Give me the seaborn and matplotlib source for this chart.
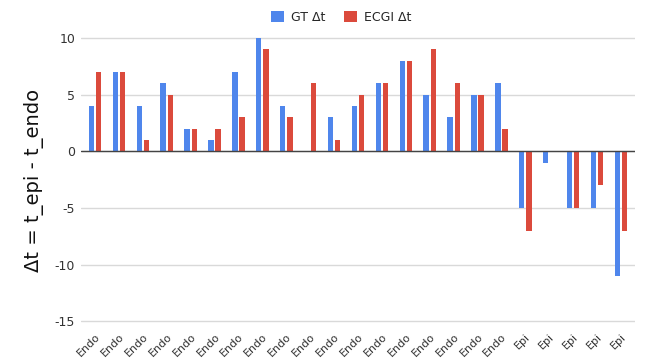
import numpy as np
import pandas as pd
import matplotlib
matplotlib.use('Agg')
import matplotlib.pyplot as plt
import seaborn as sns

labels = ['Endo'] * 18 + ['Epi'] * 5
gt = [4, 7, 4, 6, 2, 1, 7, 10, 4, 0, 3, 4, 6, 8, 5, 3, 5, 6, -5, -1, -5, -5, -11]
ecgi = [7, 7, 1, 5, 2, 2, 3, 9, 3, 6, 1, 5, 6, 8, 9, 6, 5, 2, -7, 0, -5, -3, -7]
series = ['GT Δt', 'ECGI Δt']
colors = ['#4f86ec', '#db4a3c']

idx = list(range(len(labels)))
df = pd.DataFrame({
    'idx': idx * 2,
    'value': gt + ecgi,
    'series': [series[0]] * len(gt) + [series[1]] * len(ecgi),
})

sns.set_style('white')
plt.rcParams['font.family'] = ['DejaVu Sans']

fig = plt.figure(figsize=(6.45, 3.62), dpi=100)
ax = fig.add_axes([0.125, 0.1, 0.86, 0.804])

sns.barplot(data=df, x='idx', y='value', hue='series', palette=colors,
            width=0.6, gap=0.25, ax=ax, saturation=1, linewidth=0)

ax.set_ylim(-15.4, 10.3)
ax.set_yticks([-15, -10, -5, 0, 5, 10])
ax.set_yticklabels(['-15', '-10', '-5', '0', '5', '10'], fontsize=9, color='#333333')
ax.yaxis.grid(True, color='#d9d9d9', lw=1)
ax.axhline(0, color='#444444', lw=1, zorder=3)
ax.set_axisbelow(True)
ax.set_xticks(idx)
ax.set_xticklabels(labels, rotation=45, ha='right', rotation_mode='anchor', fontsize=8, color='#333333')
ax.set_xlim(-0.6, len(labels) - 0.4)
ax.tick_params(axis='both', length=0, pad=4)
for s in ax.spines.values():
    s.set_visible(False)

ax.set_xlabel('')
ax.set_ylabel('Δt = t_epi - t_endo', fontsize=14, color='#111111', labelpad=8)

ax.legend(loc='lower center', bbox_to_anchor=(0.47, 1.0), ncol=2, frameon=False,
          fontsize=9, handlelength=1.0, handleheight=1.0, columnspacing=1.5, handletextpad=0.6)

fig.savefig('out.png', dpi=100)
